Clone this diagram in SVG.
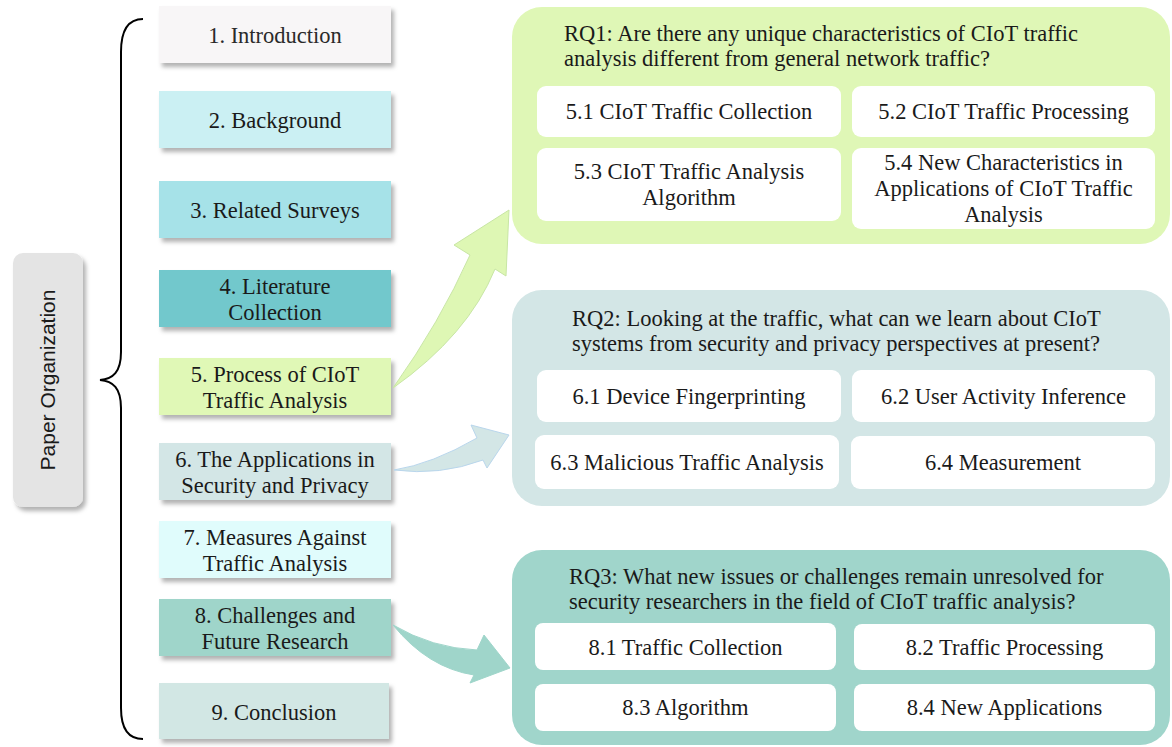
<svg xmlns="http://www.w3.org/2000/svg" width="1172" height="747" viewBox="0 0 1172 747">
<defs>
<filter id="sh" x="-10%" y="-20%" width="130%" height="160%">
<feDropShadow dx="3" dy="4" stdDeviation="2" flood-color="#000" flood-opacity="0.3"/>
</filter>
<style>
.sec{font-family:"Liberation Serif","Times New Roman",serif;font-size:22.5px;fill:#1a1a1a;text-anchor:middle}
.rq{font-family:"Liberation Serif","Times New Roman",serif;font-size:22.5px;fill:#1a1a1a}
.sub{font-family:"Liberation Serif","Times New Roman",serif;font-size:22.5px;fill:#1a1a1a;text-anchor:middle}
.box{filter:url(#sh)}
.w{fill:#ffffff}
</style>
</defs>
<rect width="1172" height="747" fill="#ffffff"/>

<g id="paper-organization">
<rect x="13" y="253" width="70" height="254" rx="10" fill="#e4e4e4" filter="url(#sh)"/>
<text transform="translate(55,380) rotate(-90)" text-anchor="middle" font-family="Liberation Sans, Arial, sans-serif" font-size="21" fill="#1a1a1a">Paper Organization</text>
</g>

<g id="brace">
<path d="M143,19 C128,19 121,30 121,52 L121,352 C121,372 113,379 100,380 C113,381 121,388 121,408 L121,708 C121,728 128,739 143,739" fill="none" stroke="#000" stroke-width="2"/>
</g>

<g id="s1"><rect class="box" x="159" y="6" width="232" height="57" fill="#f8f6f7"/><text class="sec" x="275" y="43" style="fill:#2a2a2a">1. Introduction</text></g>
<g id="s2"><rect class="box" x="159" y="91" width="232" height="57" fill="#cbf0f3"/><text class="sec" x="275" y="128">2. Background</text></g>
<g id="s3"><rect class="box" x="159" y="181" width="232" height="57" fill="#a6e2e8"/><text class="sec" x="275" y="218">3. Related Surveys</text></g>
<g id="s4"><rect class="box" x="159" y="270" width="232" height="57" fill="#72c8cc"/><text class="sec" x="275" y="294">4. Literature</text><text class="sec" x="275" y="320">Collection</text></g>
<g id="s5"><rect class="box" x="159" y="358" width="232" height="57" fill="#e0f8b6"/><text class="sec" x="275" y="382">5. Process of CIoT</text><text class="sec" x="275" y="408">Traffic Analysis</text></g>
<g id="s6"><rect class="box" x="159" y="443" width="232" height="57" fill="#d3e6e6"/><text class="sec" x="275" y="467">6. The Applications in</text><text class="sec" x="275" y="493">Security and Privacy</text></g>
<g id="s7"><rect class="box" x="159" y="521" width="232" height="57" fill="#e0fcfc"/><text class="sec" x="275" y="545">7. Measures Against</text><text class="sec" x="275" y="571">Traffic Analysis</text></g>
<g id="s8"><rect class="box" x="159" y="599" width="232" height="57" fill="#9fd5ca"/><text class="sec" x="275" y="623">8. Challenges and</text><text class="sec" x="275" y="649">Future Research</text></g>
<g id="s9"><rect class="box" x="159" y="683" width="230" height="56" fill="#d2e7e4"/><text class="sec" x="274" y="720">9. Conclusion</text></g>

<g id="connectors">
<path d="M393,388 Q440,322 470,255 L454,245 L509,210 L506,276 L495,269 Q468,335 393,388 Z" fill="#def7b4" stroke="#c8e6a4" stroke-width="1"/>
<path d="M394,470 Q432,464 477,438 L471,425 L509,435 L487,468 L483,460 Q440,476 394,470 Z" fill="#d3e6e6" stroke="#b9d6ec" stroke-width="1"/>
<path d="M393,625 Q432,648 477,650 L484,635 L510,668 L470,683 L474,675 Q428,668 393,625 Z" fill="#9fd5ca" stroke="#9fd5ca" stroke-width="1"/>
</g>

<g id="rq1">
<rect x="512" y="7" width="658" height="237" rx="30" fill="#dff7b6"/>
<text class="rq" x="564" y="41">RQ1: Are there any unique characteristics of CIoT traffic</text>
<text class="rq" x="564" y="66">analysis different from general network traffic?</text>
<g id="rq1-5-1"><rect class="w" x="537" y="86" width="304" height="51" rx="9"/><text class="sub" x="689" y="119">5.1 CIoT Traffic Collection</text></g>
<g id="rq1-5-2"><rect class="w" x="852" y="86" width="303" height="51" rx="9"/><text class="sub" x="1003.5" y="119">5.2 CIoT Traffic Processing</text></g>
<g id="rq1-5-3"><rect class="w" x="537" y="148" width="304" height="73" rx="9"/><text class="sub" x="689" y="179">5.3 CIoT Traffic Analysis</text><text class="sub" x="689" y="205">Algorithm</text></g>
<g id="rq1-5-4"><rect class="w" x="852" y="148" width="303" height="81" rx="9"/><text class="sub" x="1003.5" y="170">5.4 New Characteristics in</text><text class="sub" x="1003.5" y="196">Applications of CIoT Traffic</text><text class="sub" x="1003.5" y="222">Analysis</text></g>
</g>

<g id="rq2">
<rect x="512" y="290" width="658" height="216" rx="30" fill="#d3e6e6"/>
<text class="rq" x="572" y="326">RQ2: Looking at the traffic, what can we learn about CIoT</text>
<text class="rq" x="572" y="351">systems from security and privacy perspectives at present?</text>
<g id="rq2-6-1"><rect class="w" x="537" y="370" width="304" height="52" rx="9"/><text class="sub" x="689" y="404">6.1 Device Fingerprinting</text></g>
<g id="rq2-6-2"><rect class="w" x="852" y="370" width="303" height="52" rx="9"/><text class="sub" x="1003.5" y="404">6.2 User Activity Inference</text></g>
<g id="rq2-6-3"><rect class="w" x="535" y="435" width="304" height="54" rx="9"/><text class="sub" x="687" y="470">6.3 Malicious Traffic Analysis</text></g>
<g id="rq2-6-4"><rect class="w" x="851" y="436" width="304" height="53" rx="9"/><text class="sub" x="1003" y="470">6.4 Measurement</text></g>
</g>

<g id="rq3">
<rect x="512" y="550" width="658" height="195" rx="30" fill="#a0d5cb"/>
<text class="rq" x="569" y="584">RQ3: What new issues or challenges remain unresolved for</text>
<text class="rq" x="569" y="609">security researchers in the field of CIoT traffic analysis?</text>
<g id="rq3-8-1"><rect class="w" x="535" y="623" width="301" height="47" rx="8"/><text class="sub" x="685.5" y="655">8.1 Traffic Collection</text></g>
<g id="rq3-8-2"><rect class="w" x="854" y="624" width="301" height="46" rx="8"/><text class="sub" x="1004.5" y="655">8.2 Traffic Processing</text></g>
<g id="rq3-8-3"><rect class="w" x="535" y="684" width="301" height="47" rx="8"/><text class="sub" x="685.5" y="715">8.3 Algorithm</text></g>
<g id="rq3-8-4"><rect class="w" x="854" y="684" width="301" height="47" rx="8"/><text class="sub" x="1004.5" y="715">8.4 New Applications</text></g>
</g>
</svg>
